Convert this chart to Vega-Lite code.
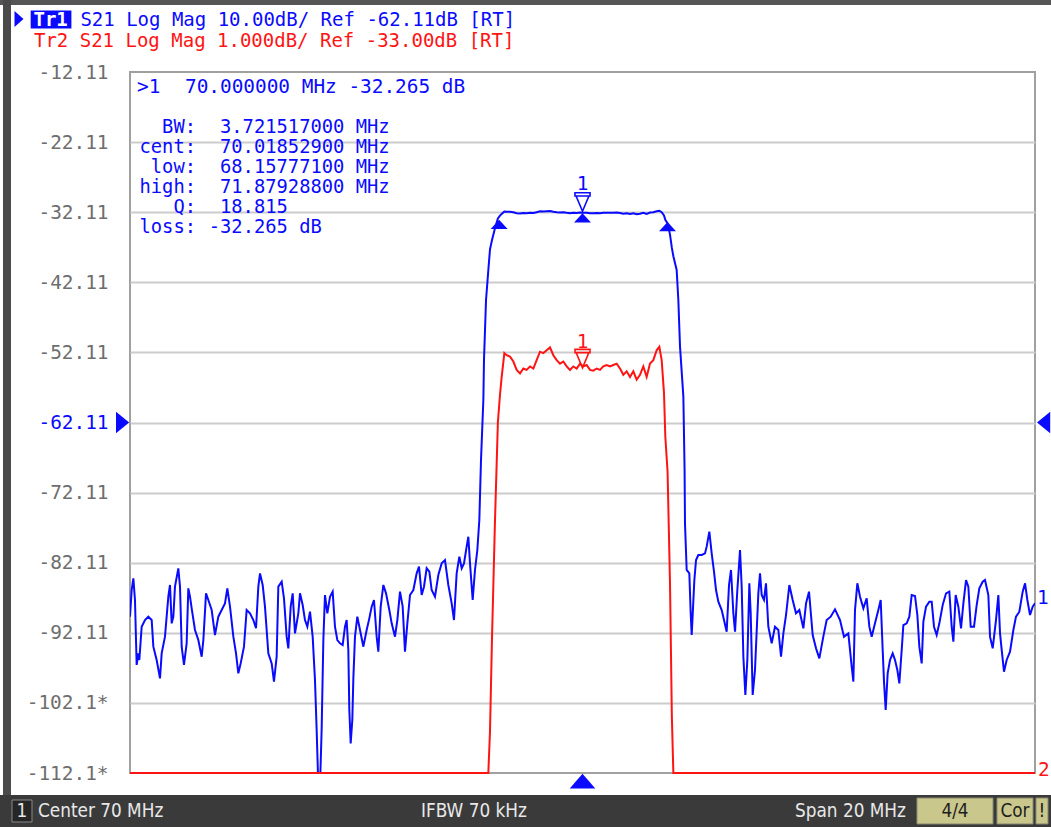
{
"$schema":"https://vega.github.io/schema/vega-lite/v6.json",
"width":905,"height":701,
"autosize":{"type":"none"},
"padding":{"left":130,"top":72,"right":16,"bottom":54},
"background":"#ffffff",
"config":{"view":{"stroke":"#a0a0a0","strokeWidth":2},"text":{"font":"DejaVu Sans Mono","fontSize":19.4}},
"datasets":{
"s21":[
{"f":60.000,"db":-89.81},{"f":60.037,"db":-86.01},{"f":60.074,"db":-84.34},{"f":60.110,"db":-87.43},{"f":60.147,"db":-96.70},{"f":60.184,"db":-95.04},{"f":60.206,"db":-95.99},{"f":60.258,"db":-91.24},{"f":60.331,"db":-90.29},{"f":60.405,"db":-89.81},{"f":60.479,"db":-90.29},{"f":60.516,"db":-94.09},{"f":60.589,"db":-95.99},{"f":60.663,"db":-98.61},{"f":60.700,"db":-95.04},{"f":60.773,"db":-92.66},{"f":60.847,"db":-86.96},{"f":60.884,"db":-85.29},{"f":60.921,"db":-90.76},{"f":60.958,"db":-89.81},{"f":60.994,"db":-85.53},{"f":61.068,"db":-82.91},{"f":61.105,"db":-85.53},{"f":61.142,"db":-94.09},{"f":61.193,"db":-96.70},{"f":61.252,"db":-93.61},{"f":61.289,"db":-85.77},{"f":61.326,"db":-86.96},{"f":61.363,"db":-88.62},{"f":61.436,"db":-91.71},{"f":61.510,"db":-93.14},{"f":61.584,"db":-95.52},{"f":61.621,"db":-93.14},{"f":61.680,"db":-86.48},{"f":61.731,"db":-87.43},{"f":61.805,"db":-88.86},{"f":61.878,"db":-92.43},{"f":61.952,"db":-89.81},{"f":62.026,"db":-88.86},{"f":62.099,"db":-87.91},{"f":62.151,"db":-85.77},{"f":62.210,"db":-88.38},{"f":62.284,"db":-92.66},{"f":62.343,"db":-95.04},{"f":62.394,"db":-97.89},{"f":62.446,"db":-96.47},{"f":62.519,"db":-94.09},{"f":62.578,"db":-88.86},{"f":62.652,"db":-89.33},{"f":62.726,"db":-90.29},{"f":62.785,"db":-91.47},{"f":62.836,"db":-85.53},{"f":62.873,"db":-83.63},{"f":62.932,"db":-85.29},{"f":62.983,"db":-88.38},{"f":63.057,"db":-95.04},{"f":63.131,"db":-96.47},{"f":63.182,"db":-99.08},{"f":63.241,"db":-95.52},{"f":63.278,"db":-85.53},{"f":63.352,"db":-84.82},{"f":63.403,"db":-87.19},{"f":63.462,"db":-92.66},{"f":63.499,"db":-94.33},{"f":63.551,"db":-88.38},{"f":63.595,"db":-86.48},{"f":63.646,"db":-92.19},{"f":63.720,"db":-89.33},{"f":63.757,"db":-86.48},{"f":63.816,"db":-88.15},{"f":63.867,"db":-90.29},{"f":63.919,"db":-91.24},{"f":63.978,"db":-89.10},{"f":64.037,"db":-92.66},{"f":64.088,"db":-98.84},{"f":64.125,"db":-105.98},{"f":64.162,"db":-114.00},{"f":64.199,"db":-114.00},{"f":64.236,"db":-105.74},{"f":64.273,"db":-93.14},{"f":64.309,"db":-86.72},{"f":64.361,"db":-89.33},{"f":64.420,"db":-86.96},{"f":64.479,"db":-86.24},{"f":64.530,"db":-91.24},{"f":64.582,"db":-93.14},{"f":64.641,"db":-93.61},{"f":64.700,"db":-93.85},{"f":64.751,"db":-91.24},{"f":64.788,"db":-90.29},{"f":64.825,"db":-94.56},{"f":64.847,"db":-103.12},{"f":64.877,"db":-107.88},{"f":64.913,"db":-104.55},{"f":64.936,"db":-98.61},{"f":64.972,"db":-92.66},{"f":65.024,"db":-89.81},{"f":65.083,"db":-91.71},{"f":65.157,"db":-94.09},{"f":65.230,"db":-91.71},{"f":65.289,"db":-90.05},{"f":65.341,"db":-88.38},{"f":65.392,"db":-87.43},{"f":65.451,"db":-92.66},{"f":65.488,"db":-94.80},{"f":65.540,"db":-88.38},{"f":65.599,"db":-85.29},{"f":65.658,"db":-86.48},{"f":65.731,"db":-88.86},{"f":65.783,"db":-90.76},{"f":65.856,"db":-92.66},{"f":65.908,"db":-90.29},{"f":65.967,"db":-86.24},{"f":66.026,"db":-88.38},{"f":66.077,"db":-94.80},{"f":66.129,"db":-90.76},{"f":66.188,"db":-86.72},{"f":66.262,"db":-86.01},{"f":66.335,"db":-83.63},{"f":66.387,"db":-82.68},{"f":66.446,"db":-86.72},{"f":66.497,"db":-85.53},{"f":66.556,"db":-82.91},{"f":66.615,"db":-83.39},{"f":66.667,"db":-86.01},{"f":66.740,"db":-86.96},{"f":66.814,"db":-83.87},{"f":66.888,"db":-82.20},{"f":66.961,"db":-81.73},{"f":67.035,"db":-85.29},{"f":67.109,"db":-87.91},{"f":67.160,"db":-90.29},{"f":67.219,"db":-83.63},{"f":67.278,"db":-81.25},{"f":67.330,"db":-82.91},{"f":67.381,"db":-82.20},{"f":67.440,"db":-79.82},{"f":67.477,"db":-78.40},{"f":67.514,"db":-82.20},{"f":67.573,"db":-87.43},{"f":67.624,"db":-83.15},{"f":67.676,"db":-80.30},{"f":67.720,"db":-76.02},
{"f":67.757,"db":-67.46},{"f":67.809,"db":-58.90},{"f":67.823,"db":-53.19},{"f":67.868,"db":-44.63},{"f":67.919,"db":-40.35},{"f":67.956,"db":-37.40},{"f":67.999,"db":-36.10},{"f":68.066,"db":-34.40},{"f":68.130,"db":-33.00},{"f":68.177,"db":-32.60},{"f":68.214,"db":-32.35},{"f":68.273,"db":-32.01},{"f":68.324,"db":-32.04},{"f":68.398,"db":-32.06},{"f":68.472,"db":-32.13},{"f":68.545,"db":-32.25},{"f":68.619,"db":-32.30},{"f":68.693,"db":-32.23},{"f":68.766,"db":-32.25},{"f":68.840,"db":-32.20},{"f":68.914,"db":-32.23},{"f":68.987,"db":-32.11},{"f":69.061,"db":-31.99},{"f":69.135,"db":-32.01},{"f":69.208,"db":-31.97},{"f":69.282,"db":-31.93},{"f":69.356,"db":-32.04},{"f":69.429,"db":-32.11},{"f":69.503,"db":-32.16},{"f":69.577,"db":-32.13},{"f":69.650,"db":-32.20},{"f":69.724,"db":-32.25},{"f":69.797,"db":-32.20},{"f":69.871,"db":-32.23},{"f":69.945,"db":-32.16},{"f":70.018,"db":-32.20},{"f":70.092,"db":-32.18},{"f":70.166,"db":-32.25},{"f":70.239,"db":-32.26},{"f":70.313,"db":-32.23},{"f":70.387,"db":-32.25},{"f":70.460,"db":-32.20},{"f":70.534,"db":-32.18},{"f":70.608,"db":-32.20},{"f":70.681,"db":-32.18},{"f":70.755,"db":-32.16},{"f":70.829,"db":-32.23},{"f":70.902,"db":-32.32},{"f":70.976,"db":-32.27},{"f":71.050,"db":-32.35},{"f":71.123,"db":-32.27},{"f":71.197,"db":-32.39},{"f":71.271,"db":-32.32},{"f":71.344,"db":-32.20},{"f":71.418,"db":-32.35},{"f":71.492,"db":-32.16},{"f":71.565,"db":-32.11},{"f":71.639,"db":-31.97},{"f":71.698,"db":-31.92},{"f":71.750,"db":-32.11},{"f":71.801,"db":-32.58},{"f":71.830,"db":-33.20},{"f":71.880,"db":-33.70},{"f":71.934,"db":-35.30},{"f":71.975,"db":-37.20},{"f":72.008,"db":-38.40},{"f":72.081,"db":-40.35},{"f":72.118,"db":-44.63},{"f":72.155,"db":-51.29},{"f":72.229,"db":-58.42},{"f":72.256,"db":-68.89},
{"f":72.265,"db":-76.50},{"f":72.302,"db":-83.15},{"f":72.361,"db":-83.63},{"f":72.391,"db":-89.33},{"f":72.413,"db":-92.43},{"f":72.435,"db":-89.57},{"f":72.472,"db":-84.58},{"f":72.509,"db":-81.73},{"f":72.560,"db":-81.01},{"f":72.634,"db":-81.01},{"f":72.707,"db":-80.78},{"f":72.744,"db":-79.82},{"f":72.803,"db":-77.68},{"f":72.855,"db":-80.78},{"f":72.906,"db":-83.39},{"f":72.951,"db":-86.01},{"f":73.002,"db":-87.67},{"f":73.076,"db":-88.86},{"f":73.127,"db":-90.29},{"f":73.186,"db":-91.95},{"f":73.238,"db":-85.29},{"f":73.282,"db":-83.15},{"f":73.334,"db":-89.33},{"f":73.371,"db":-91.95},{"f":73.422,"db":-86.01},{"f":73.481,"db":-80.30},{"f":73.518,"db":-85.53},{"f":73.555,"db":-95.52},{"f":73.599,"db":-100.98},{"f":73.643,"db":-95.99},{"f":73.687,"db":-85.05},{"f":73.717,"db":-89.33},{"f":73.761,"db":-100.98},{"f":73.812,"db":-97.42},{"f":73.849,"db":-91.95},{"f":73.886,"db":-86.48},{"f":73.923,"db":-83.63},{"f":73.960,"db":-86.72},{"f":74.011,"db":-87.43},{"f":74.055,"db":-85.05},{"f":74.107,"db":-91.24},{"f":74.181,"db":-93.61},{"f":74.254,"db":-91.24},{"f":74.328,"db":-91.71},{"f":74.387,"db":-95.52},{"f":74.439,"db":-92.19},{"f":74.498,"db":-89.57},{"f":74.571,"db":-85.29},{"f":74.645,"db":-87.43},{"f":74.718,"db":-89.33},{"f":74.792,"db":-88.86},{"f":74.881,"db":-91.47},{"f":74.940,"db":-87.91},{"f":75.006,"db":-86.24},{"f":75.087,"db":-92.43},{"f":75.161,"db":-94.33},{"f":75.234,"db":-95.75},{"f":75.322,"db":-92.66},{"f":75.396,"db":-90.29},{"f":75.485,"db":-89.81},{"f":75.580,"db":-88.76},{"f":75.691,"db":-90.29},{"f":75.779,"db":-92.66},{"f":75.875,"db":-92.19},{"f":75.949,"db":-96.94},{"f":75.986,"db":-99.08},{"f":76.022,"db":-88.86},{"f":76.074,"db":-85.05},{"f":76.133,"db":-86.96},{"f":76.207,"db":-88.62},{"f":76.280,"db":-87.19},{"f":76.339,"db":-91.24},{"f":76.391,"db":-92.66},{"f":76.464,"db":-90.76},{"f":76.538,"db":-88.86},{"f":76.590,"db":-87.43},{"f":76.634,"db":-94.56},{"f":76.663,"db":-99.08},{"f":76.700,"db":-103.12},{"f":76.744,"db":-97.89},{"f":76.796,"db":-95.99},{"f":76.855,"db":-95.04},{"f":76.906,"db":-95.99},{"f":76.958,"db":-97.42},{"f":77.002,"db":-99.32},{"f":77.054,"db":-94.56},{"f":77.091,"db":-91.00},{"f":77.164,"db":-90.76},{"f":77.223,"db":-89.81},{"f":77.275,"db":-86.72},{"f":77.348,"db":-86.86},{"f":77.400,"db":-89.57},{"f":77.444,"db":-94.09},{"f":77.496,"db":-96.47},{"f":77.533,"db":-90.52},{"f":77.592,"db":-88.38},{"f":77.665,"db":-87.67},{"f":77.717,"db":-87.67},{"f":77.768,"db":-91.24},{"f":77.827,"db":-92.43},{"f":77.886,"db":-90.76},{"f":77.960,"db":-88.15},{"f":78.034,"db":-86.48},{"f":78.107,"db":-86.24},{"f":78.159,"db":-91.24},{"f":78.196,"db":-93.38},{"f":78.247,"db":-86.72},{"f":78.306,"db":-88.38},{"f":78.365,"db":-91.47},{"f":78.417,"db":-87.91},{"f":78.476,"db":-84.58},{"f":78.527,"db":-85.53},{"f":78.579,"db":-91.24},{"f":78.652,"db":-91.24},{"f":78.711,"db":-88.15},{"f":78.770,"db":-85.77},{"f":78.844,"db":-84.82},{"f":78.895,"db":-84.58},{"f":78.969,"db":-86.72},{"f":79.006,"db":-92.66},{"f":79.065,"db":-94.33},{"f":79.138,"db":-90.29},{"f":79.190,"db":-86.72},{"f":79.227,"db":-92.19},{"f":79.264,"db":-94.56},{"f":79.315,"db":-97.66},{"f":79.374,"db":-95.99},{"f":79.448,"db":-94.80},{"f":79.522,"db":-91.71},{"f":79.580,"db":-89.81},{"f":79.654,"db":-89.10},{"f":79.728,"db":-86.24},{"f":79.780,"db":-85.05},{"f":79.831,"db":-87.43},{"f":79.890,"db":-89.57},{"f":79.949,"db":-88.38},{"f":80.000,"db":-87.91}
],
"bw":[{"point":"low","f":68.15777,"db":-33.2},{"point":"high","f":71.879288,"db":-33.5}],
"m1":[{"marker":"1","f":70.0,"db":-32.265}],
"m2":[{"marker":"1","f":70.0,"db":-32.25}]
},
"layer":[
 {"data":{"name":"s21"},"mark":{"type":"line","color":"#0a0aff","strokeWidth":2,"clip":true},
  "encoding":{
   "x":{"field":"f","type":"quantitative","scale":{"domain":[60,80],"nice":false,"zero":false},
    "axis":{"values":[62,64,66,68,70,72,74,76,78],"grid":true,"gridColor":"#cccccc","gridWidth":2,"labels":false,"ticks":false,"domain":false,"title":null}},
   "y":{"field":"db","type":"quantitative","scale":{"domain":[-112.11,-12.11],"nice":false,"zero":false},
    "axis":{"values":[-112.11,-102.11,-92.11,-82.11,-72.11,-62.11,-52.11,-42.11,-32.11,-22.11,-12.11],"grid":true,"gridColor":"#cccccc","gridWidth":2,
     "gridOpacity":{"condition":{"test":"datum.value < -112 || datum.value > -12.2","value":0},"value":1},
     "ticks":false,"domain":false,"title":null,
     "labelExpr":"datum.value < -100 ? slice('' + datum.value, 0, 6) + '*' : '' + datum.value",
     "labelFont":"DejaVu Sans Mono","labelFontSize":19.4,"labelPadding":22,
     "labelColor":{"condition":{"test":"datum.value === -62.11","value":"#0a0aff"},"value":"#6e6e6e"}}}}},
 {"data":{"name":"m1"},"mark":{"type":"point","shape":"M-0.94,-2.57 L0.94,-2.57 L0.94,-2.16 L-0.94,-2.16 Z M-0.8,-2.16 L0.8,-2.16 L0,-0.25 Z","size":256,"filled":false,"color":"#0a0aff","strokeWidth":1.6,"opacity":1,"clip":false},
  "encoding":{"x":{"field":"f","type":"quantitative","axis":null},"y":{"field":"db","type":"quantitative","scale":{"domain":[-112.11,-12.11],"nice":false,"zero":false},"axis":null}}},
 {"data":{"name":"m1"},"mark":{"type":"text","color":"#0a0aff","align":"center","baseline":"alphabetic","dy":-23,"clip":false},
  "encoding":{"x":{"field":"f","type":"quantitative","axis":null},"y":{"field":"db","type":"quantitative","scale":{"domain":[-112.11,-12.11],"nice":false,"zero":false},"axis":null},"text":{"field":"marker"}}},
 {"data":{"name":"m1"},"mark":{"type":"point","shape":"M0,0 L1.06,1.15 L-1.06,1.15 Z","size":256,"filled":true,"color":"#0a0aff","opacity":1,"clip":false},
  "encoding":{"x":{"field":"f","type":"quantitative","axis":null},"y":{"field":"db","type":"quantitative","scale":{"domain":[-112.11,-12.11],"nice":false,"zero":false},"axis":null}}},
 {"data":{"name":"bw"},"mark":{"type":"point","shape":"M0,0 L1.06,1.15 L-1.06,1.15 Z","size":256,"filled":true,"color":"#0a0aff","opacity":1,"clip":false},
  "encoding":{"x":{"field":"f","type":"quantitative","axis":null},"y":{"field":"db","type":"quantitative","scale":{"domain":[-112.11,-12.11],"nice":false,"zero":false},"axis":null}}},
 {"data":{"values":[{}]},"mark":{"type":"point","shape":"M0,0.1 L1.6,1.95 L-1.6,1.95 Z","size":256,"filled":true,"color":"#0a0aff","opacity":1,"clip":false},
  "encoding":{"x":{"datum":70,"type":"quantitative","axis":null},"y":{"datum":-112.11,"type":"quantitative","scale":{"domain":[-112.11,-12.11],"nice":false,"zero":false},"axis":null}}},
 {"data":{"values":[{}]},"mark":{"type":"point","shape":"M-0.1,0 L-1.75,-1.35 L-1.75,1.35 Z","size":256,"filled":true,"color":"#0a0aff","opacity":1,"clip":false},
  "encoding":{"x":{"datum":60,"type":"quantitative","axis":null},"y":{"datum":-62.11,"type":"quantitative","scale":{"domain":[-112.11,-12.11],"nice":false,"zero":false},"axis":null}}},
 {"data":{"values":[{}]},"mark":{"type":"point","shape":"M0.25,0 L1.9,-1.35 L1.9,1.35 Z","size":256,"filled":true,"color":"#0a0aff","opacity":1,"clip":false},
  "encoding":{"x":{"datum":80,"type":"quantitative","axis":null},"y":{"datum":-62.11,"type":"quantitative","scale":{"domain":[-112.11,-12.11],"nice":false,"zero":false},"axis":null}}},
 {"data":{"values":[{}]},"mark":{"type":"text","text":"1","color":"#0a0aff","align":"left","baseline":"middle","dx":2,"dy":-5,"clip":false},
  "encoding":{"x":{"datum":80,"type":"quantitative","axis":null},"y":{"datum":-87.91,"type":"quantitative","scale":{"domain":[-112.11,-12.11],"nice":false,"zero":false},"axis":null}}},
 {"data":{"values":[{}]},"mark":{"type":"text","text":">1","color":"#0a0aff","align":"left","baseline":"alphabetic","clip":false},
  "encoding":{"x":{"datum":60.155,"type":"quantitative","axis":null},"y":{"datum":-15.15,"type":"quantitative","scale":{"domain":[-112.11,-12.11],"nice":false,"zero":false},"axis":null}}},
 {"data":{"values":[{}]},"mark":{"type":"text","text":"70.000000 MHz -32.265 dB","color":"#0a0aff","align":"left","baseline":"alphabetic","clip":false},
  "encoding":{"x":{"datum":61.215,"type":"quantitative","axis":null},"y":{"datum":-15.15,"type":"quantitative","scale":{"domain":[-112.11,-12.11],"nice":false,"zero":false},"axis":null}}},
 {"data":{"values":[{}]},"mark":{"type":"text","text":"BW:","fontSize":18.8,"color":"#0a0aff","align":"right","baseline":"alphabetic","clip":false},
  "encoding":{"x":{"datum":61.459,"type":"quantitative","axis":null},"y":{"datum":-20.81,"type":"quantitative","scale":{"domain":[-112.11,-12.11],"nice":false,"zero":false},"axis":null}}},
 {"data":{"values":[{}]},"mark":{"type":"text","text":"cent:","fontSize":18.8,"color":"#0a0aff","align":"right","baseline":"alphabetic","clip":false},
  "encoding":{"x":{"datum":61.459,"type":"quantitative","axis":null},"y":{"datum":-23.66,"type":"quantitative","scale":{"domain":[-112.11,-12.11],"nice":false,"zero":false},"axis":null}}},
 {"data":{"values":[{}]},"mark":{"type":"text","text":"low:","fontSize":18.8,"color":"#0a0aff","align":"right","baseline":"alphabetic","clip":false},
  "encoding":{"x":{"datum":61.459,"type":"quantitative","axis":null},"y":{"datum":-26.52,"type":"quantitative","scale":{"domain":[-112.11,-12.11],"nice":false,"zero":false},"axis":null}}},
 {"data":{"values":[{}]},"mark":{"type":"text","text":"high:","fontSize":18.8,"color":"#0a0aff","align":"right","baseline":"alphabetic","clip":false},
  "encoding":{"x":{"datum":61.459,"type":"quantitative","axis":null},"y":{"datum":-29.37,"type":"quantitative","scale":{"domain":[-112.11,-12.11],"nice":false,"zero":false},"axis":null}}},
 {"data":{"values":[{}]},"mark":{"type":"text","text":"Q:","fontSize":18.8,"color":"#0a0aff","align":"right","baseline":"alphabetic","clip":false},
  "encoding":{"x":{"datum":61.459,"type":"quantitative","axis":null},"y":{"datum":-32.22,"type":"quantitative","scale":{"domain":[-112.11,-12.11],"nice":false,"zero":false},"axis":null}}},
 {"data":{"values":[{}]},"mark":{"type":"text","text":"loss:","fontSize":18.8,"color":"#0a0aff","align":"right","baseline":"alphabetic","clip":false},
  "encoding":{"x":{"datum":61.459,"type":"quantitative","axis":null},"y":{"datum":-35.08,"type":"quantitative","scale":{"domain":[-112.11,-12.11],"nice":false,"zero":false},"axis":null}}},
 {"data":{"values":[{}]},"mark":{"type":"text","text":"3.721517000 MHz","fontSize":18.8,"color":"#0a0aff","align":"left","baseline":"alphabetic","clip":false},
  "encoding":{"x":{"datum":61.989,"type":"quantitative","axis":null},"y":{"datum":-20.81,"type":"quantitative","scale":{"domain":[-112.11,-12.11],"nice":false,"zero":false},"axis":null}}},
 {"data":{"values":[{}]},"mark":{"type":"text","text":"70.01852900 MHz","fontSize":18.8,"color":"#0a0aff","align":"left","baseline":"alphabetic","clip":false},
  "encoding":{"x":{"datum":61.989,"type":"quantitative","axis":null},"y":{"datum":-23.66,"type":"quantitative","scale":{"domain":[-112.11,-12.11],"nice":false,"zero":false},"axis":null}}},
 {"data":{"values":[{}]},"mark":{"type":"text","text":"68.15777100 MHz","fontSize":18.8,"color":"#0a0aff","align":"left","baseline":"alphabetic","clip":false},
  "encoding":{"x":{"datum":61.989,"type":"quantitative","axis":null},"y":{"datum":-26.52,"type":"quantitative","scale":{"domain":[-112.11,-12.11],"nice":false,"zero":false},"axis":null}}},
 {"data":{"values":[{}]},"mark":{"type":"text","text":"71.87928800 MHz","fontSize":18.8,"color":"#0a0aff","align":"left","baseline":"alphabetic","clip":false},
  "encoding":{"x":{"datum":61.989,"type":"quantitative","axis":null},"y":{"datum":-29.37,"type":"quantitative","scale":{"domain":[-112.11,-12.11],"nice":false,"zero":false},"axis":null}}},
 {"data":{"values":[{}]},"mark":{"type":"text","text":"18.815","fontSize":18.8,"color":"#0a0aff","align":"left","baseline":"alphabetic","clip":false},
  "encoding":{"x":{"datum":61.989,"type":"quantitative","axis":null},"y":{"datum":-32.22,"type":"quantitative","scale":{"domain":[-112.11,-12.11],"nice":false,"zero":false},"axis":null}}},
 {"data":{"values":[{}]},"mark":{"type":"text","text":"-32.265 dB","fontSize":18.8,"color":"#0a0aff","align":"left","baseline":"alphabetic","clip":false},
  "encoding":{"x":{"datum":61.74,"type":"quantitative","axis":null},"y":{"datum":-35.08,"type":"quantitative","scale":{"domain":[-112.11,-12.11],"nice":false,"zero":false},"axis":null}}},
 {"data":{"values":[{}]},"mark":{"type":"rect","color":"#555555","clip":false},
  "encoding":{"x":{"datum":57.127,"type":"quantitative","axis":null},"x2":{"datum":80.354},"y":{"datum":-1.84,"type":"quantitative","scale":{"domain":[-112.11,-12.11],"nice":false,"zero":false},"axis":null},"y2":{"datum":-2.55}}},
 {"data":{"values":[{}]},"mark":{"type":"rect","color":"#4a4a4a","clip":false},
  "encoding":{"x":{"datum":57.193,"type":"quantitative","axis":null},"x2":{"datum":57.370},"y":{"datum":-1.84,"type":"quantitative","scale":{"domain":[-112.11,-12.11],"nice":false,"zero":false},"axis":null},"y2":{"datum":-115.25}}},
 {"data":{"values":[{}]},"mark":{"type":"point","shape":"M1,0 L-1,-1.8 L-1,1.8 Z","size":81,"filled":true,"color":"#0a0aff","opacity":1,"clip":false},
  "encoding":{"x":{"datum":57.547,"type":"quantitative","axis":null},"y":{"datum":-4.55,"type":"quantitative","scale":{"domain":[-112.11,-12.11],"nice":false,"zero":false},"axis":null}}},
 {"data":{"values":[{}]},"mark":{"type":"rect","color":"#0a0aff","clip":false},
  "encoding":{"x":{"datum":57.805,"type":"quantitative","axis":null},"x2":{"datum":58.705},"y":{"datum":-3.34,"type":"quantitative","scale":{"domain":[-112.11,-12.11],"nice":false,"zero":false},"axis":null},"y2":{"datum":-5.90}}},
 {"data":{"values":[{}]},"mark":{"type":"text","text":"Tr1","fontSize":19.0,"color":"#ffffff","fontWeight":"bold","align":"left","baseline":"alphabetic","clip":false},
  "encoding":{"x":{"datum":57.867,"type":"quantitative","axis":null},"y":{"datum":-5.48,"type":"quantitative","scale":{"domain":[-112.11,-12.11],"nice":false,"zero":false},"axis":null}}},
 {"data":{"values":[{}]},"mark":{"type":"text","text":"S21 Log Mag 10.00dB/ Ref -62.11dB [RT]","fontSize":19.0,"color":"#0a0aff","align":"left","baseline":"alphabetic","clip":false},
  "encoding":{"x":{"datum":58.904,"type":"quantitative","axis":null},"y":{"datum":-5.48,"type":"quantitative","scale":{"domain":[-112.11,-12.11],"nice":false,"zero":false},"axis":null}}},
 {"data":{"values":[{}]},"mark":{"type":"text","text":"Tr2 S21 Log Mag 1.000dB/ Ref -33.00dB [RT]","fontSize":19.0,"color":"#ff1414","align":"left","baseline":"alphabetic","clip":false},
  "encoding":{"x":{"datum":57.878,"type":"quantitative","axis":null},"y":{"datum":-8.54,"type":"quantitative","scale":{"domain":[-112.11,-12.11],"nice":false,"zero":false},"axis":null}}},
 {"data":{"values":[{}]},"mark":{"type":"rect","color":"#3a3a3a","clip":false},
  "encoding":{"x":{"datum":57.127,"type":"quantitative","axis":null},"x2":{"datum":80.354},"y":{"datum":-115.25,"type":"quantitative","scale":{"domain":[-112.11,-12.11],"nice":false,"zero":false},"axis":null},"y2":{"datum":-119.81}}},
 {"data":{"values":[{}]},"mark":{"type":"rect","fill":"#262626","stroke":"#8a8a8a","strokeWidth":1,"clip":false},
  "encoding":{"x":{"datum":57.392,"type":"quantitative","axis":null},"x2":{"datum":57.834},"y":{"datum":-115.96,"type":"quantitative","scale":{"domain":[-112.11,-12.11],"nice":false,"zero":false},"axis":null},"y2":{"datum":-119.10}}},
 {"data":{"values":[{}]},"mark":{"type":"rect","fill":"#cac78c","stroke":"#8a8a70","strokeWidth":1,"clip":false},
  "encoding":{"x":{"datum":77.392,"type":"quantitative","axis":null},"x2":{"datum":79.072},"y":{"datum":-115.68,"type":"quantitative","scale":{"domain":[-112.11,-12.11],"nice":false,"zero":false},"axis":null},"y2":{"datum":-119.38}}},
 {"data":{"values":[{}]},"mark":{"type":"rect","fill":"#cac78c","stroke":"#8a8a70","strokeWidth":1,"clip":false},
  "encoding":{"x":{"datum":79.160,"type":"quantitative","axis":null},"x2":{"datum":79.956},"y":{"datum":-115.68,"type":"quantitative","scale":{"domain":[-112.11,-12.11],"nice":false,"zero":false},"axis":null},"y2":{"datum":-119.38}}},
 {"data":{"values":[{}]},"mark":{"type":"rect","fill":"#cac78c","stroke":"#8a8a70","strokeWidth":1,"clip":false},
  "encoding":{"x":{"datum":80.022,"type":"quantitative","axis":null},"x2":{"datum":80.287},"y":{"datum":-115.68,"type":"quantitative","scale":{"domain":[-112.11,-12.11],"nice":false,"zero":false},"axis":null},"y2":{"datum":-119.38}}},
 {"data":{"values":[{}]},"mark":{"type":"text","text":"1","font":"DejaVu Sans Condensed, Liberation Sans Narrow, sans-serif","fontSize":18.8,"color":"#e8e8e8","align":"center","baseline":"middle","clip":false},
  "encoding":{"x":{"datum":57.613,"type":"quantitative","axis":null},"y":{"datum":-117.53,"type":"quantitative","scale":{"domain":[-112.11,-12.11],"nice":false,"zero":false},"axis":null}}},
 {"data":{"values":[{}]},"mark":{"type":"text","text":"Center 70 MHz","font":"DejaVu Sans Condensed, Liberation Sans Narrow, sans-serif","fontSize":18.8,"color":"#e8e8e8","align":"left","baseline":"middle","clip":false},
  "encoding":{"x":{"datum":57.967,"type":"quantitative","axis":null},"y":{"datum":-117.53,"type":"quantitative","scale":{"domain":[-112.11,-12.11],"nice":false,"zero":false},"axis":null}}},
 {"data":{"values":[{}]},"mark":{"type":"text","text":"IFBW 70 kHz","font":"DejaVu Sans Condensed, Liberation Sans Narrow, sans-serif","fontSize":18.8,"color":"#e8e8e8","align":"left","baseline":"middle","clip":false},
  "encoding":{"x":{"datum":66.431,"type":"quantitative","axis":null},"y":{"datum":-117.53,"type":"quantitative","scale":{"domain":[-112.11,-12.11],"nice":false,"zero":false},"axis":null}}},
 {"data":{"values":[{}]},"mark":{"type":"text","text":"Span 20 MHz","font":"DejaVu Sans Condensed, Liberation Sans Narrow, sans-serif","fontSize":18.8,"color":"#e8e8e8","align":"left","baseline":"middle","clip":false},
  "encoding":{"x":{"datum":74.696,"type":"quantitative","axis":null},"y":{"datum":-117.53,"type":"quantitative","scale":{"domain":[-112.11,-12.11],"nice":false,"zero":false},"axis":null}}},
 {"data":{"values":[{}]},"mark":{"type":"text","text":"4/4","font":"DejaVu Sans Condensed, Liberation Sans Narrow, sans-serif","fontSize":18.8,"color":"#1e1e1e","align":"center","baseline":"middle","clip":false},
  "encoding":{"x":{"datum":78.232,"type":"quantitative","axis":null},"y":{"datum":-117.53,"type":"quantitative","scale":{"domain":[-112.11,-12.11],"nice":false,"zero":false},"axis":null}}},
 {"data":{"values":[{}]},"mark":{"type":"text","text":"Cor","font":"DejaVu Sans Condensed, Liberation Sans Narrow, sans-serif","fontSize":18.8,"color":"#1e1e1e","align":"center","baseline":"middle","clip":false},
  "encoding":{"x":{"datum":79.558,"type":"quantitative","axis":null},"y":{"datum":-117.53,"type":"quantitative","scale":{"domain":[-112.11,-12.11],"nice":false,"zero":false},"axis":null}}},
 {"data":{"values":[{}]},"mark":{"type":"text","text":"!","font":"DejaVu Sans Condensed, Liberation Sans Narrow, sans-serif","fontSize":18.8,"color":"#1e1e1e","align":"center","baseline":"middle","clip":false},
  "encoding":{"x":{"datum":80.155,"type":"quantitative","axis":null},"y":{"datum":-117.53,"type":"quantitative","scale":{"domain":[-112.11,-12.11],"nice":false,"zero":false},"axis":null}}},
 {"data":{"name":"s21"},"mark":{"type":"line","color":"#ff1414","strokeWidth":2,"clip":false},
  "encoding":{
   "x":{"field":"f","type":"quantitative","axis":null},
   "y":{"field":"db","type":"quantitative","scale":{"domain":[-38,-28],"nice":false,"zero":false,"clamp":true},"axis":null}}},
 {"data":{"name":"m2"},"mark":{"type":"point","shape":"M-0.94,-2.57 L0.94,-2.57 L0.94,-2.16 L-0.94,-2.16 Z M-0.8,-2.16 L0.8,-2.16 L0,-0.25 Z","size":256,"filled":false,"color":"#ff1414","strokeWidth":1.6,"opacity":1,"clip":false},
  "encoding":{"x":{"field":"f","type":"quantitative","axis":null},"y":{"field":"db","type":"quantitative","scale":{"domain":[-38,-28],"nice":false,"zero":false},"axis":null}}},
 {"data":{"name":"m2"},"mark":{"type":"text","color":"#ff1414","align":"center","baseline":"alphabetic","dy":-22,"clip":false},
  "encoding":{"x":{"field":"f","type":"quantitative","axis":null},"y":{"field":"db","type":"quantitative","scale":{"domain":[-38,-28],"nice":false,"zero":false},"axis":null},"text":{"field":"marker"}}},
 {"data":{"values":[{}]},"mark":{"type":"text","text":"2","color":"#ff1414","align":"left","baseline":"middle","dx":3,"dy":-3,"clip":false},
  "encoding":{"x":{"datum":80,"type":"quantitative","axis":null},"y":{"datum":-38,"type":"quantitative","scale":{"domain":[-38,-28],"nice":false,"zero":false},"axis":null}}}
],
"resolve":{"scale":{"y":"independent"}}
}
